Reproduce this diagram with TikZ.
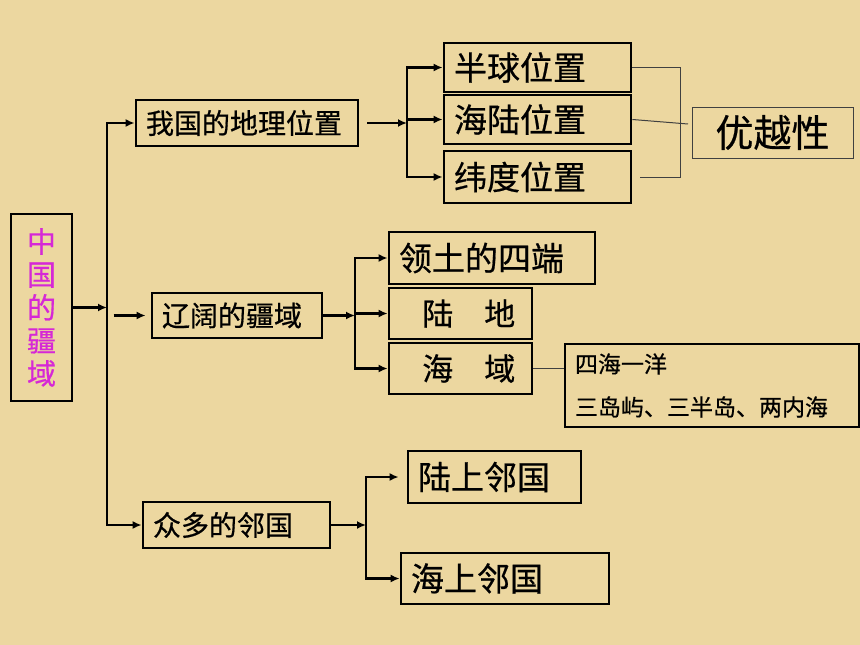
\documentclass[tikz,border=0pt]{standalone}
\usepackage{fontspec}
\newfontfamily\cjk[FakeBold=0.6]{Noto Sans CJK SC}
\usetikzlibrary{arrows.meta}
\definecolor{parchment}{RGB}{236,215,160}
\definecolor{rootpink}{RGB}{214,40,214}
\tikzset{mapbox/.style={draw, line width=2.8pt, font=\cjk, inner xsep=10pt, inner ysep=0pt, align=left},
  maplink/.style={-{Latex[length=9pt,width=8pt]}, line width=2.6pt},
  maptrunk/.style={line width=2.6pt, line cap=rect},
  mapthin/.style={draw=black!75, line width=1pt}}

\begin{document}
\begin{tikzpicture}[x=1pt, y=-1pt]
\fill[parchment] (0,0) rectangle (860,645);
\useasboundingbox (0,0) rectangle (860,645);
\node[mapbox, align=center, text width=41pt, minimum height=187pt, text=rootpink, font=\cjk\fontsize{29}{33}\selectfont] (root) at (41.5,307.5) {中\\国\\的\\疆\\域};
\node[mapbox, text width=202pt, minimum height=46pt, font=\cjk\fontsize{28}{30}\selectfont] (geo) at (247,123) {我国的地理位置};
\node[mapbox, text width=150pt, minimum height=45pt, font=\cjk\fontsize{28}{30}\selectfont] (terr) at (237,315.5) {辽阔的疆域};
\node[mapbox, text width=167pt, minimum height=46pt, font=\cjk\fontsize{28}{30}\selectfont] (nbr) at (236.5,525) {众多的邻国};
\node[mapbox, text width=167pt, minimum height=49pt, font=\cjk\fontsize{33}{36}\selectfont] (hemi) at (537.5,67.5) {半球位置};
\node[mapbox, text width=167pt, minimum height=49pt, font=\cjk\fontsize{33}{36}\selectfont] (landsea) at (537.5,119.5) {海陆位置};
\node[mapbox, text width=167pt, minimum height=52pt, font=\cjk\fontsize{33}{36}\selectfont] (lat) at (537.5,177) {纬度位置};
\node[draw=black!75, line width=1pt, inner sep=0pt, minimum width=161pt, minimum height=51pt, font=\cjk\fontsize{38}{42}\selectfont] (adv) at (772.5,132.5) {优越性};
\node[mapbox, text width=186pt, minimum height=52pt, font=\cjk\fontsize{33}{36}\selectfont] (ends) at (492,258) {领土的四端};
\node[mapbox, text width=123pt, minimum height=51pt, font=\cjk\fontsize{31}{36}\selectfont] (land) at (460.5,313.5) {\mbox{\hspace*{0.75em}陆\hspace*{1em}地}};
\node[mapbox, text width=123pt, minimum height=51pt, font=\cjk\fontsize{31}{36}\selectfont] (sea) at (460.5,368.5) {\mbox{\hspace*{0.75em}海\hspace*{1em}域}};
\node[mapbox, text width=274pt, minimum height=83pt, font=\cjk\fontsize{23}{43}\selectfont] (seainfo) at (712,385.5) {四海一洋\\三岛屿、三半岛、两内海};
\node[mapbox, text width=153pt, minimum height=52pt, font=\cjk\fontsize{33}{36}\selectfont] (lnbr) at (494.5,477) {陆上邻国};
\node[mapbox, text width=188pt, minimum height=51pt, font=\cjk\fontsize{33}{36}\selectfont] (snbr) at (505,578.5) {海上邻国};

\coordinate (t1) at (107,0);
\coordinate (t2) at (407,0);
\coordinate (t3) at (355,0);
\coordinate (t4) at (366,0);
\coordinate (brk) at (680,0);

\draw[maptrunk] (t1 |- geo.west) -- (t1 |- nbr.west);
\draw[maplink] (root.east) -- (root.east -| t1);
\draw[maplink] (t1 |- geo.west) -- (geo.west);
\draw[maplink] (t1 |- nbr.west) -- (nbr.west);
\coordinate (terrtail) at ([xshift=-37pt]terr.west);
\draw[maplink, shorten >=5pt] (terrtail) -- (terr.west);

\coordinate (geotail) at ([xshift=8pt]geo.east);
\draw[maplink] (geotail) -- (geotail -| t2);
\draw[maptrunk] (t2 |- hemi.west) -- (t2 |- lat.west);
\foreach \b in {hemi,landsea,lat} \draw[maplink] (t2 |- \b.west) -- (\b.west);

\draw[maplink] (terr.east) -- (terr.east -| t3);
\draw[maptrunk] (t3 |- ends.west) -- (t3 |- sea.west);
\foreach \b in {ends,land,sea} \draw[maplink] (t3 |- \b.west) -- (\b.west);

\draw[maplink] (nbr.east) -- (nbr.east -| t4);
\draw[maptrunk] (t4 |- lnbr.west) -- (t4 |- snbr.west);
\draw[maplink, shorten >=8pt] (t4 |- lnbr.west) -- (lnbr.west);
\draw[maplink] (t4 |- snbr.west) -- (snbr.west);

\draw[mapthin] (hemi.east) -| (brk |- lat.east) -- ([xshift=8pt]lat.east);
\coordinate (advtail) at (688,124);
\draw[mapthin] (landsea.east) -- (advtail);
\draw[mapthin] (sea.east) -- (sea.east -| seainfo.west);
\end{tikzpicture}
\end{document}
